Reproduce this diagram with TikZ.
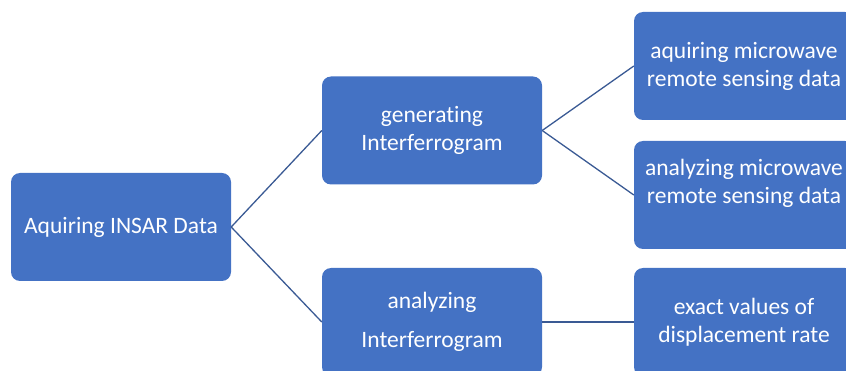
\documentclass[tikz,border=0pt]{standalone}
\usepackage{fontspec}
\setmainfont{Carlito}[Ligatures=NoCommon]
\definecolor{boxblue}{HTML}{4472C4}
\definecolor{linkblue}{HTML}{3A5A94}

\begin{document}
\begin{tikzpicture}[x=1pt,y=-1pt,
    block/.style={fill=boxblue, rounded corners=9pt, text=white, align=center,
        minimum width=220pt, minimum height=108pt, inner sep=0pt,
        font=\fontsize{23.5}{28}\selectfont},
    link/.style={draw=linkblue, line width=1.3pt}]
        % page frame
        \useasboundingbox (0,0) rectangle (846,371);
        \clip (0,0) rectangle (846,371);
        % boxes
        \node[block] (insar) at (121,227) {Aquiring INSAR Data};
        \node[block] (genI) at (432,130.5) {generating\\Interferrogram};
        \node[block] (anaI) at (432,322) {analyzing\\[11pt]Interferrogram};
        \node[block] (aquMW) at (744,66) {aquiring microwave\\remote sensing data};
        \node[block] (anaMW) at (744,195) {analyzing microwave\\remote sensing data\\\mbox{}};
        \node[block] (rate) at (744,322) {exact values of\\displacement rate};
        % links
        \draw[link] (insar.east) -- (genI.west);
        \draw[link] (insar.east) -- (anaI.west);
        \draw[link] (genI.east) -- (aquMW.west);
        \draw[link] (genI.east) -- (anaMW.west);
        \draw[link] (anaI.east) -- (rate.west);
\end{tikzpicture}
\end{document}
